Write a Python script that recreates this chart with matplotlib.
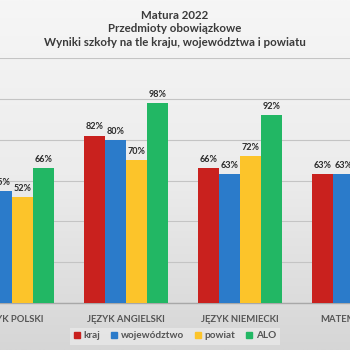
import numpy as np
import matplotlib.pyplot as plt
from matplotlib.patches import Patch
from matplotlib.colors import LinearSegmentedColormap

plt.rcParams['font.family'] = ['Lato', 'DejaVu Sans']

categories = ["JĘZYK POLSKI", "JĘZYK ANGIELSKI", "JĘZYK NIEMIECKI", "MATEMATYKA"]
series_names = ["kraj", "województwo", "powiat", "ALO"]
kraj = [55, 82, 66, 63]
wojewodztwo = [55, 80, 63, 63]
powiat = [52, 70, 72, 58]
alo = [66, 98, 92, 75]
colors = ["#c9211e", "#2b7bca", "#fcc42a", "#22b764"]

title = "Matura 2022\nPrzedmioty obowiązkowe\nWyniki szkoły na tle kraju, województwa i powiatu"

fig = plt.figure(figsize=(3.5, 3.5), dpi=100)

# gradient background
bg = fig.add_axes([0, 0, 1, 1], zorder=0)
grad = np.linspace(0, 1, 256).reshape(-1, 1)
bg_cmap = LinearSegmentedColormap.from_list("bg", ["#f6f6f6", "#ececec", "#d6d6d6"])
bg.imshow(grad, aspect="auto", cmap=bg_cmap, extent=[0, 1, 0, 1])
bg.axis("off")

# plot area is wider than the picture (the chart is cropped on both sides)
ax = fig.add_axes([-45 / 350, 47 / 350, 456 / 350, 245 / 350], zorder=1)
ax.set_facecolor("none")

x = np.arange(len(categories))
width = 0.184
values = [kraj, wojewodztwo, powiat, alo]
for i, (vals, c) in enumerate(zip(values, colors)):
    bars = ax.bar(x + (i - 1.5) * width, vals, width, color=c, zorder=3)
    ax.bar_label(bars, labels=[f"{v}%" for v in vals], padding=3,
                 fontsize=6.5, fontweight="bold", color="#2a2a2a")

ax.set_xlim(-0.5, 3.5)
ax.set_ylim(0, 120)
ax.set_yticks(range(0, 121, 20))
ax.yaxis.grid(True, color="#c4c4c4", linewidth=0.8, zorder=0)
ax.tick_params(axis="y", left=False, labelleft=False)
ax.set_xticks(x)
ax.set_xticklabels(categories, fontsize=6.8, fontweight="bold", color="#555555")
ax.tick_params(axis="x", length=0, pad=9)
for s in ["top", "left", "right"]:
    ax.spines[s].set_visible(False)
ax.spines["bottom"].set_color("#a8a8a8")
ax.spines["bottom"].set_linewidth(1.0)

fig.text(0.5, 1 - 29 / 350, title, ha="center", va="center", fontsize=8.3,
         fontweight="bold", color="#3a3a3a", linespacing=1.3)

handles = [Patch(color=c, label=n) for c, n in zip(colors, series_names)]
leg = fig.legend(handles=handles, loc="center", bbox_to_anchor=(175 / 350, 1 - 336 / 350),
                 ncol=4, frameon=True, fontsize=7.2, handlelength=0.6, handleheight=0.6,
                 handletextpad=0.35, columnspacing=1.1, borderpad=0.4)
leg.get_frame().set_facecolor("#ffffff")
leg.get_frame().set_alpha(0.35)
leg.get_frame().set_edgecolor("none")
leg.get_frame().set_boxstyle("square", pad=0)
for t in leg.get_texts():
    t.set_fontweight("bold")
    t.set_color("#555555")

fig.savefig("out.png", dpi=100)
